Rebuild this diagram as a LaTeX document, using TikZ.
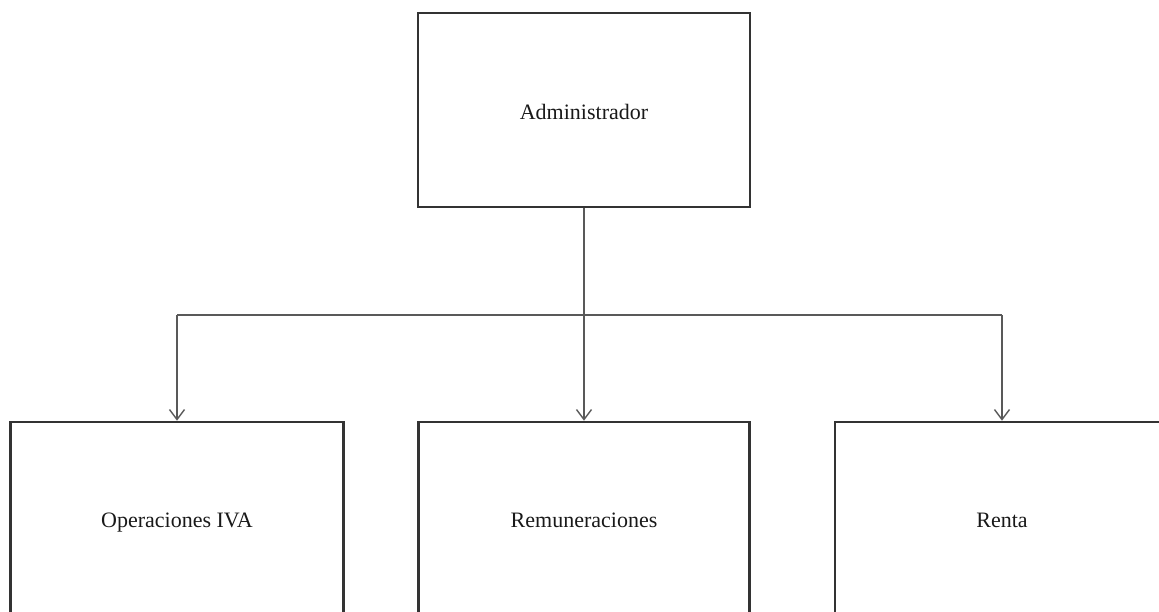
\documentclass[tikz,border=0pt]{standalone}
\usepackage{fontspec}
\setmainfont{Liberation Serif}
\usetikzlibrary{arrows.meta}
\begin{document}
\begin{tikzpicture}[x=1pt,y=-1pt,
  unitbox/.style={draw=black!80, line width=2.6pt, rectangle, inner sep=0pt,
    font=\fontsize{22}{26}\selectfont, text=black!90,
    text height=18pt, text depth=0pt},
  link/.style={draw=black!65, line width=1.6pt},
  arr/.style={link, -{Straight Barb[length=10pt,width=15pt,line width=1.4pt]}}]
  \useasboundingbox (0,0) rectangle (1159,611);
  \begin{scope}
    \clip (0,0) rectangle (1159,611);
    \node[unitbox, minimum width=332pt, minimum height=194pt] (admin) at (584,110) {Administrador};
    \node[unitbox, minimum width=333pt, minimum height=192pt] (ops) at (177,518) {Operaciones IVA};
    \node[unitbox, minimum width=331pt, minimum height=192pt] (rem) at (584,518) {Remuneraciones};
    \node[unitbox, minimum width=334pt, minimum height=192pt] (ren) at (1002,518) {Renta};
  \end{scope}
  \coordinate (jL) at (ops.north |- 0,315);
  \coordinate (jR) at (ren.north |- 0,315);
  \draw[arr] (admin.south) -- (rem.north);
  \draw[link] (jL) -- (jR);
  \draw[arr] (jL) -- (ops.north);
  \draw[arr] (jR) -- (ren.north);
\end{tikzpicture}
\end{document}
